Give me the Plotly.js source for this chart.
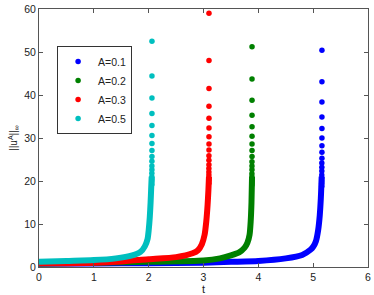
<!DOCTYPE html>
<html>
<head>
<meta charset="utf-8">
<script src="https://cdn.plot.ly/plotly-3.0.1.min.js"></script>
<style>html,body{margin:0;padding:0;background:#fff;}#chart{width:374px;height:295px;}</style>
</head>
<body>
<div id="chart"></div>
<script>
// Series names and colours
var seriesNames = ["A=0.1", "A=0.2", "A=0.3", "A=0.5"];
var seriesColors = ["#0000FF", "#008000", "#FF0000", "#00BFBF"];

// Dense (merged) part of each series: t and ||u||
var denseT_01 = [0, 1, 2, 3, 3.5, 4, 4.5, 4.8, 4.95, 5.0, 5.05, 5.09, 5.12, 5.14, 5.155];
var denseU_01 = [0.75, 0.8, 0.9, 1.0, 1.2, 1.4, 2.0, 2.8, 4.0, 4.7, 6.0, 8.5, 12, 16, 21];
var denseT_02 = [0, 1, 2, 3, 3.3, 3.5, 3.65, 3.75, 3.8, 3.84, 3.86, 3.875, 3.885];
var denseU_02 = [0.8, 1.0, 1.2, 1.5, 2.0, 2.7, 3.4, 4.5, 5.6, 7.5, 10.5, 15, 21];
var denseT_03 = [0, 1, 1.5, 2, 2.5, 2.8, 2.9, 2.97, 3.02, 3.05, 3.075, 3.09, 3.1];
var denseU_03 = [0.85, 1.0, 1.3, 1.8, 2.3, 3.2, 3.9, 5.3, 7.5, 10.5, 14.5, 18, 21];
var denseT_05 = [0, 0.5, 1, 1.4, 1.7, 1.85, 1.93, 1.98, 2.0, 2.02, 2.035, 2.045, 2.055];
var denseU_05 = [1.25, 1.4, 1.6, 2.0, 2.7, 3.5, 4.8, 6.5, 8.5, 11.5, 15, 18, 21];

// Separated points near blow-up: t and ||u||
var topT_01 = [5.16, 5.16, 5.16, 5.16, 5.16, 5.16, 5.16, 5.16, 5.16, 5.158, 5.158, 5.158, 5.157, 5.157, 5.157, 5.156, 5.156];
var topU_01 = [50.4, 43.1, 38.4, 34.9, 32.2, 30.0, 28.2, 26.7, 25.3, 24.2, 23.2, 22.3, 21.4, 20.7, 20.0, 19.4, 18.8];
var topT_02 = [3.885, 3.885, 3.885, 3.885, 3.885, 3.885, 3.885, 3.885, 3.885, 3.884, 3.884, 3.884, 3.883, 3.883, 3.883, 3.882, 3.882];
var topU_02 = [51.2, 43.7, 38.8, 35.3, 32.6, 30.4, 28.6, 27.1, 25.7, 24.5, 23.5, 22.6, 21.7, 21.0, 20.3, 19.7, 19.1];
var topT_03 = [3.1, 3.1, 3.1, 3.1, 3.1, 3.1, 3.1, 3.1, 3.1, 3.099, 3.099, 3.099, 3.098, 3.098, 3.098, 3.097, 3.097, 3.097];
var topU_03 = [59.0, 48.0, 41.5, 37.4, 34.6, 32.3, 30.3, 28.6, 27.2, 25.9, 24.8, 23.8, 22.9, 22.1, 21.4, 20.7, 20.1, 19.5];
var topT_05 = [2.06, 2.06, 2.06, 2.06, 2.06, 2.06, 2.06, 2.06, 2.06, 2.059, 2.059, 2.059, 2.058, 2.058, 2.058, 2.057, 2.057];
var topU_05 = [52.5, 44.4, 39.3, 35.7, 32.9, 30.6, 28.7, 27.1, 25.7, 24.6, 23.5, 22.6, 21.8, 21.0, 20.4, 19.8, 19.2];

// Axis ticks
var xTicks = [0, 1, 2, 3, 4, 5, 6];
var yTicks = [0, 10, 20, 30, 40, 50, 60];

var denseT = [denseT_01, denseT_02, denseT_03, denseT_05];
var denseU = [denseU_01, denseU_02, denseU_03, denseU_05];
var topT = [topT_01, topT_02, topT_03, topT_05];
var topU = [topU_01, topU_02, topU_03, topU_05];

var traces = [];
for (var i = 0; i < 4; i++) {
  traces.push({
    x: denseT[i], y: denseU[i], type: 'scatter', mode: 'lines',
    line: {color: seriesColors[i], width: 6, shape: 'spline', smoothing: 0.6},
    showlegend: false, hoverinfo: 'skip'
  });
}
for (var j = 0; j < 4; j++) {
  traces.push({
    x: topT[j], y: topU[j], type: 'scatter', mode: 'markers', name: seriesNames[j],
    marker: {color: seriesColors[j], size: 5.5}
  });
}

var axisCommon = {
  showgrid: false, zeroline: false, showline: true, linecolor: '#555', linewidth: 1,
  mirror: 'ticks', ticks: 'inside', ticklen: 4, tickcolor: '#555',
  tickfont: {family: 'Liberation Sans, Arial, sans-serif', size: 10.5, color: '#222'}
};

var layout = {
  width: 374, height: 295,
  margin: {l: 39, r: 6, t: 9, b: 28},
  paper_bgcolor: '#fff', plot_bgcolor: '#fff',
  font: {family: 'Liberation Sans, Arial, sans-serif', size: 10.5, color: '#222'},
  xaxis: Object.assign({}, axisCommon, {
    range: [0, 6], tickvals: xTicks, ticktext: xTicks.map(String),
    title: {text: 't', standoff: 0, font: {size: 11, color: '#222'}}
  }),
  yaxis: Object.assign({}, axisCommon, {
    range: [0, 60], tickvals: yTicks, ticktext: yTicks.map(String),
    title: {text: '||u<sup>A</sup>||<sub>∞</sub>', standoff: 4, font: {size: 10, color: '#222'}}
  }),
  legend: {
    x: 0.055, y: 0.857, xanchor: 'left', yanchor: 'top',
    bgcolor: '#fff', bordercolor: '#333', borderwidth: 1,
    font: {size: 10.5, color: '#222'}, itemwidth: 30, tracegroupgap: 0
  },
  showlegend: true
};

Plotly.newPlot('chart', traces, layout, {displayModeBar: false, staticPlot: true});
</script>
</body>
</html>
